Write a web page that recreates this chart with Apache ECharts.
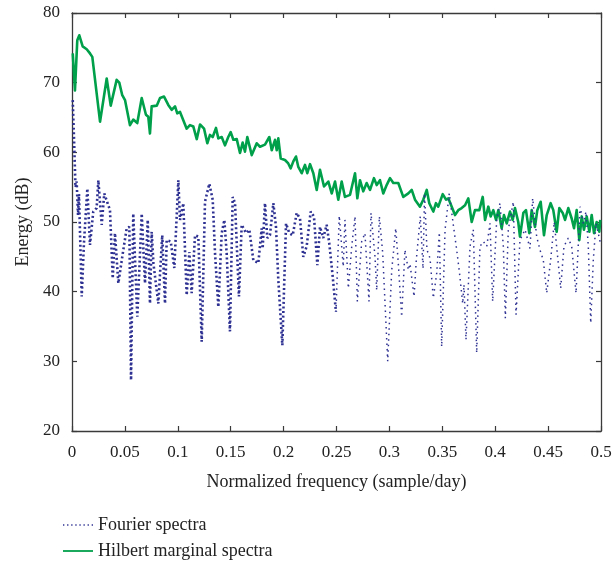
<!DOCTYPE html>
<html>
<head>
<meta charset="utf-8">
<script src="https://cdn.jsdelivr.net/npm/echarts@6/dist/echarts.min.js"></script>
<style>
html,body{margin:0;padding:0;background:#fff;}
#chart{width:615px;height:563px;}
</style>
</head>
<body>
<div id="chart"></div>
<script>
// Tick labels
var xTicks = [0,0.05,0.1,0.15,0.2,0.25,0.3,0.35,0.4,0.45,0.5];
var yTicks = [20,30,40,50,60,70,80];

// Hilbert marginal spectra
var hilbertX = [0.0007,0.0028,0.0050,0.0069,0.0101,0.0139,0.0170,0.0192,0.0265,0.0328,0.0366,0.0422,0.0447,0.0475,0.0501,0.0548,0.0579,0.0617,0.0659,0.0699,0.0721,0.0737,0.0753,0.0801,0.0832,0.0870,0.0910,0.0942,0.0974,0.0995,0.1021,0.1084,0.1115,0.1147,0.1179,0.1210,0.1248,0.1279,0.1304,0.1330,0.1361,0.1383,0.1415,0.1446,0.1477,0.1500,0.1525,0.1557,0.1588,0.1613,0.1635,0.1657,0.1699,0.1746,0.1777,0.1824,0.1865,0.1888,0.1919,0.1935,0.1950,0.1973,0.2013,0.2044,0.2067,0.2092,0.2117,0.2139,0.2171,0.2202,0.2224,0.2250,0.2281,0.2313,0.2344,0.2382,0.2423,0.2455,0.2486,0.2517,0.2549,0.2580,0.2628,0.2675,0.2697,0.2722,0.2753,0.2785,0.2817,0.2854,0.2880,0.2911,0.2942,0.2974,0.3006,0.3037,0.3084,0.3131,0.3179,0.3211,0.3242,0.3289,0.3320,0.3353,0.3377,0.3415,0.3440,0.3462,0.3504,0.3535,0.3557,0.3589,0.3620,0.3651,0.3683,0.3715,0.3746,0.3778,0.3809,0.3850,0.3882,0.3904,0.3935,0.3957,0.3982,0.4008,0.4030,0.4061,0.4083,0.4109,0.4140,0.4165,0.4187,0.4218,0.4234,0.4266,0.4291,0.4322,0.4345,0.4376,0.4398,0.4430,0.4461,0.4487,0.4524,0.4549,0.4581,0.4606,0.4638,0.4660,0.4691,0.4723,0.4745,0.4770,0.4795,0.4818,0.4839,0.4865,0.4890,0.4912,0.4934,0.4959,0.4984,0.4993];
var hilbertY = [74.2,68.9,76.1,76.8,75.2,74.8,74.2,73.7,64.4,70.6,66.7,70.4,70.0,68.2,67.5,63.9,64.7,64.2,67.8,65.4,65.1,62.7,66.6,66.7,67.8,68.0,66.8,66.1,66.6,65.6,65.8,63.4,63.9,63.7,61.9,64.0,63.4,61.3,62.5,62.2,63.5,62.0,62.2,61.0,62.2,62.9,61.8,61.9,59.9,61.4,60.1,62.2,59.6,61.3,60.8,61.1,62.2,60.3,61.8,60.3,62.0,59.1,58.9,58.4,57.7,58.7,59.4,57.9,57.0,58.2,57.0,58.3,57.0,54.6,57.5,55.1,55.8,54.1,55.8,53.2,55.8,53.6,53.9,57.0,53.4,56.0,54.4,55.6,54.6,56.3,55.3,56.0,54.1,55.3,56.3,55.6,55.6,53.6,54.1,54.6,53.2,52.2,53.2,54.6,52.7,51.5,52.7,52.2,54.0,53.2,53.4,52.2,51.0,51.7,52.0,52.4,53.4,50.0,51.7,51.7,53.6,50.3,52.2,50.8,51.7,50.3,51.7,49.1,51.0,49.8,51.5,50.3,52.0,50.0,47.9,51.3,51.7,48.4,51.7,49.3,51.7,52.9,48.1,51.0,52.7,51.7,48.6,52.0,51.3,50.3,52.0,50.5,49.1,51.7,47.4,50.8,48.9,50.8,48.6,51.0,48.4,50.0,48.6,50.3];

// Fourier spectra, low-frequency half (drawn with bold dots)
var fourierX1 = [0.0007,0.0019,0.0033,0.0044,0.0057,0.0066,0.0092,0.0113,0.0145,0.0170,0.0201,0.0233,0.0249,0.0281,0.0305,0.0343,0.0359,0.0385,0.0406,0.0438,0.0485,0.0517,0.0542,0.0558,0.0579,0.0617,0.0659,0.0690,0.0716,0.0737,0.0753,0.0770,0.0816,0.0853,0.0879,0.0895,0.0933,0.0967,0.1005,0.1021,0.1052,0.1084,0.1109,0.1131,0.1163,0.1194,0.1226,0.1257,0.1298,0.1330,0.1352,0.1383,0.1415,0.1440,0.1462,0.1493,0.1519,0.1541,0.1578,0.1604,0.1645,0.1676,0.1714,0.1761,0.1793,0.1802,0.1824,0.1846,0.1871,0.1903,0.1928,0.1950,0.1988,0.2023,0.2054,0.2086,0.2124,0.2155,0.2186,0.2218,0.2256,0.2287,0.2319,0.2344,0.2375,0.2407,0.2432,0.2464,0.2495];
var fourierY1 = [67.5,62,55,55.8,51,54,39.3,47,54.8,46.7,51.5,52.0,56.0,49.6,54.1,52.4,51.7,41.9,48.4,41.2,46.0,49.1,49.3,27.3,51.2,36.4,51.2,41.2,50.3,38.3,48.6,44,38.3,48.1,38.3,47.4,47.2,43.4,56.0,50.3,52.7,39.5,45.7,39.8,48.1,47.9,32.8,52.9,55.5,53.2,45.5,37.8,48.4,50.3,45.5,34.3,53.6,52.7,39.3,49.6,48.4,48.9,44.5,44.1,49.1,46.2,52.7,47.7,48.1,52.7,49.3,41.7,32.3,49.8,48.4,48.1,51.3,50.5,45.0,46.5,51.5,50.8,43.8,49.3,47.7,49.6,46.9,42.2,37.1];

// Fourier spectra, high-frequency half (drawn with fine dots)
var fourierX2 = [0.2495,0.2526,0.2564,0.2580,0.2612,0.2644,0.2675,0.2697,0.2738,0.2769,0.2807,0.2826,0.2864,0.2880,0.2905,0.2937,0.2984,0.3022,0.3060,0.3084,0.3116,0.3147,0.3179,0.3195,0.3233,0.3254,0.3292,0.3318,0.3332,0.3355,0.3384,0.3415,0.3447,0.3472,0.3494,0.3526,0.3566,0.3604,0.3636,0.3661,0.3693,0.3705,0.3724,0.3762,0.3793,0.3825,0.3856,0.3888,0.3920,0.3951,0.3976,0.4014,0.4045,0.4077,0.4096,0.4124,0.4171,0.4197,0.4234,0.4282,0.4329,0.4354,0.4392,0.4423,0.4455,0.4487,0.4524,0.4558,0.4587,0.4619,0.4650,0.4691,0.4723,0.4764,0.4802,0.4833,0.4858,0.4880,0.4903,0.4927,0.4953,0.4974,0.4995];
var fourierY2 = [37.1,50.9,43.6,50.3,40.5,46.5,50.8,38.6,47.2,48.4,38.6,51.3,45.0,40.2,50.8,45.5,30.0,43.1,49.1,44.1,36.4,46.0,43.1,44.0,39.3,44.5,50.8,43.3,54.1,46.0,44.8,39.1,42.6,48.5,32.1,48.9,54.1,49.6,46.0,42.9,38.3,41.0,33.1,46.5,48.9,31.2,46.5,47.2,46.5,49.8,38.6,50.3,52.7,46.5,36.2,48.9,52.9,36.7,47.4,48.9,46.2,53.4,47.9,46.0,44.5,39.8,44.5,50.0,45.5,40.5,46.5,47.7,46.5,39.8,52.2,49.8,51.5,46.5,35.5,44.5,49.8,48.4,46.9];

var seriesNames = ['Fourier spectra', 'Hilbert marginal spectra'];
var axisTitles = {x: 'Normalized frequency (sample/day)', y: 'Energy (dB)'};

function zip(xs, ys){ return xs.map(function(x,i){ return [x, ys[i]]; }); }

var FONT = '"Liberation Serif", "DejaVu Serif", serif';
var BLUE = '#2E3192';
var GREEN = '#00A04B';
var AXC = '#3a3a3a';

// legend glyphs: a dotted and a solid horizontal stroke (30 wide, thin)
var dotted = '';
for (var k = 0; k < 8; k++) { dotted += 'M' + (k*4) + ',0h1.3v1.3h-1.3z'; }
var DOTTED_ICON = 'path://' + dotted;
var SOLID_ICON = 'path://M0,0H30V1.8H0Z';

var chart = echarts.init(document.getElementById('chart'), null, {renderer:'canvas'});

function xAxisCfg(pos, show){
  return {
    type:'value', position:pos, min:0, max:0.5, interval:0.05,
    axisLine:{show:true, onZero:false, lineStyle:{color:AXC, width:1.3}},
    axisTick:{show:true, inside:true, length:5, lineStyle:{color:AXC, width:1.2}},
    axisLabel:{show:show, color:'#222', fontFamily:FONT, fontSize:17, margin:13,
      formatter:function(v){ return String(Math.round(v*100)/100); }},
    splitLine:{show:false},
    name: show ? axisTitles.x : '', nameLocation:'middle', nameGap:42,
    nameTextStyle:{color:'#222', fontFamily:FONT, fontSize:18}
  };
}
function yAxisCfg(pos, show){
  return {
    type:'value', position:pos, min:20, max:80, interval:10,
    axisLine:{show:true, onZero:false, lineStyle:{color:AXC, width:1.3}},
    axisTick:{show:true, inside:true, length:5, lineStyle:{color:AXC, width:1.2}},
    axisLabel:{show:show, color:'#222', fontFamily:FONT, fontSize:17, margin:12},
    splitLine:{show:false},
    name: show ? axisTitles.y : '', nameLocation:'middle', nameGap:40,
    nameTextStyle:{color:'#222', fontFamily:FONT, fontSize:18}
  };
}

chart.setOption({
  animation:false,
  backgroundColor:'#fff',
  grid:{left:72, right:14, top:13, bottom:132, containLabel:false},
  xAxis:[xAxisCfg('bottom', true), xAxisCfg('top', false)],
  yAxis:[yAxisCfg('left', true), yAxisCfg('right', false)],
  legend:{
    orient:'vertical', left:63, top:516, padding:0, itemWidth:30, itemHeight:14, itemGap:8,
    textGap:8, symbolKeepAspect:true,
    textStyle:{color:'#222', fontFamily:FONT, fontSize:18},
    data:[
      {name:seriesNames[0], icon:DOTTED_ICON},
      {name:seriesNames[1], icon:SOLID_ICON}
    ]
  },
  series:[
    {
      name:seriesNames[1], type:'line', data:zip(hilbertX, hilbertY),
      showSymbol:false, symbol:'none',
      lineStyle:{color:GREEN, width:2.6, join:'round'}, itemStyle:{color:GREEN}, z:2
    },
    {
      name:seriesNames[0], type:'line', data:zip(fourierX1, fourierY1),
      showSymbol:false, symbol:'none',
      lineStyle:{color:BLUE, width:2.6, type:[2,2.6]}, itemStyle:{color:BLUE}, z:3
    },
    {
      name:seriesNames[0], type:'line', data:zip(fourierX2, fourierY2),
      showSymbol:false, symbol:'none',
      lineStyle:{color:BLUE, width:1.5, type:[1.5,4]}, itemStyle:{color:BLUE}, z:3
    }
  ]
});
</script>
</body>
</html>
